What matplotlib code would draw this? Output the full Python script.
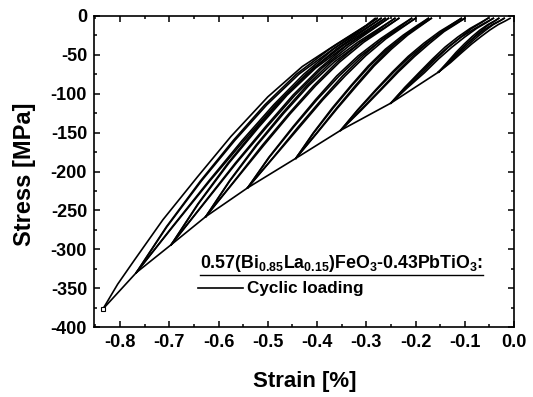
import matplotlib
matplotlib.use('Agg')
from matplotlib import pyplot as plt
from matplotlib.ticker import MultipleLocator, FormatStrFormatter

plt.rcParams['font.family'] = ['Liberation Sans', 'DejaVu Sans']
plt.rcParams['font.weight'] = 'bold'
plt.rcParams['axes.unicode_minus'] = False
plt.rcParams['mathtext.fontset'] = 'custom'
plt.rcParams['mathtext.bf'] = 'Liberation Sans:bold'
plt.rcParams['mathtext.rm'] = 'Liberation Sans:bold'
plt.rcParams['mathtext.default'] = 'bf'

# first-loading envelope through the peak of every block
env_strain = [-0.153, -0.25, -0.352, -0.443, -0.541, -0.626, -0.696, -0.767, -0.835]
env_stress = [-72, -112, -147, -183, -221, -258, -294, -330, -377]

# virgin loading up to the first peak
a_virgin = [-0.153, -0.129, -0.106, -0.086, -0.067, -0.049, -0.032, -0.018, -0.008]

# each block: stress levels (peak -> top) and strain of unload / reload branches
a_stress = [-72, -60, -47, -36, -26.5, -18, -11, -6.5, -3]
a_unload1 = [-0.153, -0.134, -0.114, -0.096, -0.079, -0.061, -0.044, -0.030, -0.020]
a_reload1 = [-0.153, -0.131, -0.110, -0.091, -0.074, -0.057, -0.042, -0.029, -0.020]
a_unload2 = [-0.153, -0.136, -0.118, -0.101, -0.085, -0.069, -0.053, -0.040, -0.031]
a_reload2 = [-0.153, -0.133, -0.113, -0.096, -0.080, -0.065, -0.051, -0.039, -0.031]

b_stress = [-112, -92, -73, -55, -40, -27, -16, -8.5, -3]
b_unload1 = [-0.250, -0.221, -0.190, -0.161, -0.134, -0.107, -0.079, -0.058, -0.042]
b_reload1 = [-0.250, -0.216, -0.182, -0.153, -0.126, -0.100, -0.076, -0.056, -0.042]
b_unload2 = [-0.250, -0.222, -0.193, -0.165, -0.140, -0.114, -0.089, -0.068, -0.053]
b_reload2 = [-0.250, -0.218, -0.186, -0.158, -0.133, -0.108, -0.086, -0.066, -0.053]

c_stress = [-147, -121, -95, -72, -52, -35, -20, -10, -3]
c_unload1 = [-0.352, -0.317, -0.279, -0.244, -0.211, -0.178, -0.145, -0.119, -0.100]
c_reload1 = [-0.352, -0.310, -0.270, -0.235, -0.202, -0.171, -0.142, -0.117, -0.100]
c_unload2 = [-0.352, -0.318, -0.281, -0.247, -0.215, -0.183, -0.151, -0.125, -0.107]
c_reload2 = [-0.352, -0.312, -0.272, -0.238, -0.206, -0.176, -0.147, -0.124, -0.107]

d_stress = [-183, -150.6, -118.2, -89.4, -64.2, -42.6, -24.6, -12, -3]
d_unload1 = [-0.443, -0.407, -0.367, -0.329, -0.293, -0.257, -0.220, -0.190, -0.168]
d_reload1 = [-0.443, -0.400, -0.358, -0.319, -0.284, -0.249, -0.216, -0.188, -0.168]
d_unload2 = [-0.443, -0.408, -0.369, -0.331, -0.296, -0.261, -0.225, -0.196, -0.174]
d_reload2 = [-0.443, -0.401, -0.360, -0.322, -0.287, -0.253, -0.221, -0.193, -0.174]

e_stress = [-221, -181.8, -142.5, -107.6, -77.1, -51, -29.2, -13.9, -3]
e_unload1 = [-0.541, -0.497, -0.447, -0.400, -0.355, -0.311, -0.265, -0.227, -0.200]
e_reload1 = [-0.541, -0.488, -0.435, -0.388, -0.343, -0.301, -0.260, -0.225, -0.200]
e_unload2 = [-0.541, -0.498, -0.449, -0.403, -0.360, -0.316, -0.271, -0.235, -0.208]
e_reload2 = [-0.541, -0.489, -0.438, -0.391, -0.348, -0.306, -0.266, -0.232, -0.208]

f_stress = [-258, -212.1, -166.2, -125.4, -89.7, -59.1, -33.6, -15.8, -3]
f_unload1 = [-0.626, -0.577, -0.522, -0.468, -0.417, -0.365, -0.311, -0.265, -0.234]
f_reload1 = [-0.626, -0.567, -0.508, -0.454, -0.403, -0.354, -0.305, -0.263, -0.234]
f_unload2 = [-0.626, -0.578, -0.524, -0.471, -0.421, -0.371, -0.317, -0.273, -0.242]
f_reload2 = [-0.626, -0.568, -0.511, -0.457, -0.407, -0.359, -0.311, -0.271, -0.242]

g_stress = [-294, -241.6, -189.2, -142.7, -101.9, -67, -37.9, -17.6, -3]
g_unload1 = [-0.696, -0.641, -0.579, -0.518, -0.461, -0.403, -0.341, -0.290, -0.255]
g_reload1 = [-0.696, -0.630, -0.564, -0.502, -0.445, -0.390, -0.334, -0.288, -0.255]
g_unload2 = [-0.696, -0.642, -0.581, -0.521, -0.464, -0.407, -0.347, -0.297, -0.262]
g_reload2 = [-0.696, -0.631, -0.566, -0.505, -0.449, -0.394, -0.340, -0.295, -0.262]

h_stress = [-330, -271.1, -212.3, -160, -114.2, -74.9, -42.2, -19.4, -3]
h_unload1 = [-0.767, -0.705, -0.635, -0.567, -0.502, -0.437, -0.367, -0.310, -0.270]
h_reload1 = [-0.767, -0.693, -0.618, -0.548, -0.484, -0.422, -0.360, -0.307, -0.270]
h_unload2 = [-0.767, -0.706, -0.637, -0.570, -0.506, -0.442, -0.374, -0.317, -0.278]
h_reload2 = [-0.767, -0.694, -0.620, -0.552, -0.488, -0.427, -0.366, -0.315, -0.278]

# last (largest) unloading curve
i_strain = [-0.835, -0.805, -0.771, -0.713, -0.643, -0.575, -0.500, -0.430, -0.360, -0.320, -0.300, -0.282]
i_stress = [-377, -345, -314, -262, -207, -155, -104, -65, -36, -20, -12, -3]

blocks = [
    (a_stress, [a_virgin, a_unload1, a_reload1, a_unload2, a_reload2]),
    (b_stress, [b_unload1, b_reload1, b_unload2, b_reload2]),
    (c_stress, [c_unload1, c_reload1, c_unload2, c_reload2]),
    (d_stress, [d_unload1, d_reload1, d_unload2, d_reload2]),
    (e_stress, [e_unload1, e_reload1, e_unload2, e_reload2]),
    (f_stress, [f_unload1, f_reload1, f_unload2, f_reload2]),
    (g_stress, [g_unload1, g_reload1, g_unload2, g_reload2]),
    (h_stress, [h_unload1, h_reload1, h_unload2, h_reload2]),
]

fig = plt.figure(figsize=(5.33, 3.97), dpi=100)
ax = fig.add_axes([94/533, 1-327/397, 420/533, 311/397])

lw = 1.2
ax.plot(env_strain, env_stress, color='black', lw=lw)
for stress, branches in blocks:
    for br in branches:
        ax.plot(br, stress, color='black', lw=lw)
ax.plot(i_strain, i_stress, color='black', lw=lw)
# small square drawn at the highest load point
ax.plot(env_strain[-1:], env_stress[-1:], marker='s', ms=3, mfc='white', mec='black', mew=0.8)

ax.set_xlim(-0.853, 0.0)
ax.set_ylim(-400, 0)
ax.xaxis.set_major_locator(MultipleLocator(0.1))
ax.xaxis.set_minor_locator(MultipleLocator(0.05))
ax.yaxis.set_major_locator(MultipleLocator(50))
ax.yaxis.set_minor_locator(MultipleLocator(25))
ax.xaxis.set_major_formatter(matplotlib.ticker.FuncFormatter(lambda v, p: '%.1f' % v if abs(v) > 1e-9 else '0.0'))
ax.yaxis.set_major_formatter(FormatStrFormatter('%d'))
ax.tick_params(which='both', direction='in', top=True, right=True, width=1.1, labelsize=13, pad=5)
ax.tick_params(which='major', length=4.5)
ax.tick_params(which='minor', length=2.5)
for s in ax.spines.values():
    s.set_linewidth(1.2)

ax.set_xlabel('Strain [%]', fontsize=16, fontweight='bold')
ax.set_ylabel('Stress [MPa]', fontsize=17, fontweight='bold')
ax.xaxis.set_label_coords(0.502, -0.14)
ax.yaxis.set_label_coords(-0.138, 0.49)

# legend drawn by hand
title = ax.text(0.252, 0.19, r'0.57(Bi$_{0.85}$La$_{0.15}$)FeO$_{3}$-0.43PbTiO$_{3}$:',
                transform=ax.transAxes, fontsize=12.8, fontweight='bold', va='baseline')
fig.canvas.draw()
bb = title.get_window_extent().transformed(ax.transAxes.inverted())
ax.plot([bb.x0, bb.x1], [bb.y0 - 0.004, bb.y0 - 0.004], transform=ax.transAxes, color='black', lw=1.0)
ax.plot([0.248, 0.355], [0.125, 0.125], transform=ax.transAxes, color='black', lw=lw)
ax.text(0.364, 0.125, 'Cyclic loading', transform=ax.transAxes, fontsize=12.3,
        fontweight='bold', va='center')

fig.savefig('out.png', dpi=100)
